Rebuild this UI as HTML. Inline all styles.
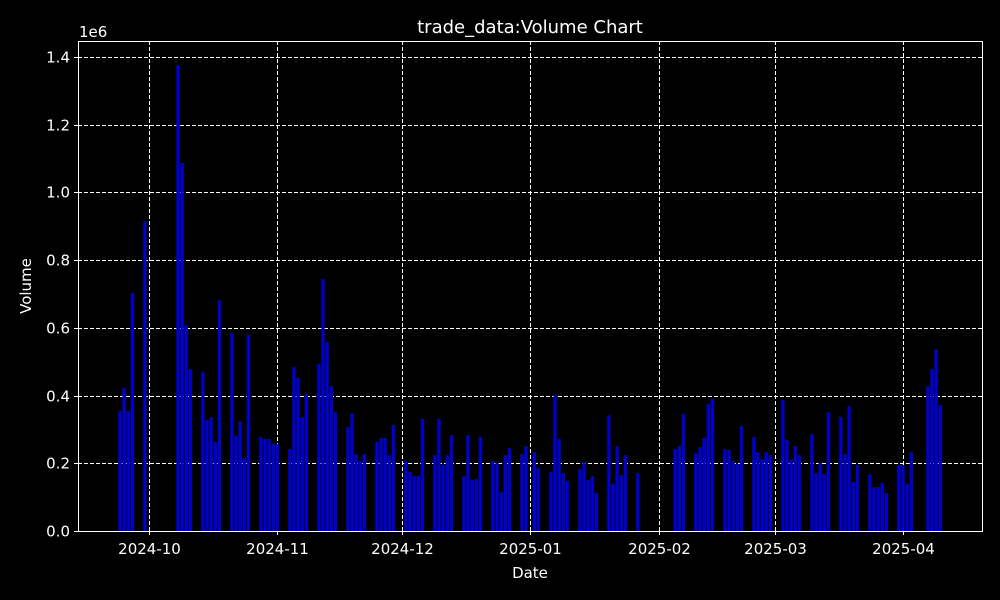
<!DOCTYPE html>
<html><head><meta charset="utf-8"><style>
html,body{margin:0;padding:0;background:#000;}
svg{display:block;font-family:"DejaVu Sans","Liberation Sans",sans-serif;}
</style></head><body>
<svg id="chart" width="1000" height="600" viewBox="0 0 1000 600" xmlns="http://www.w3.org/2000/svg">
<rect x="0" y="0" width="1000" height="600" fill="#000"/>
<text x="530" y="33" fill="#fff" font-size="18" text-anchor="middle">trade_data:Volume Chart</text>
<text x="79" y="37" fill="#fff" font-size="15">1e6</text>
<text x="530" y="578" fill="#fff" font-size="15" text-anchor="middle">Date</text>
<text x="31" y="286" fill="#fff" font-size="15" text-anchor="middle" transform="rotate(-90 31 286)">Volume</text>
<g id="grid"></g><g id="bars"></g><g id="axes"></g>
</svg>
<script>
const dates = ["2024-09-24","2024-09-25","2024-09-26","2024-09-27","2024-09-30",
"2024-10-08","2024-10-09","2024-10-10","2024-10-11",
"2024-10-14","2024-10-15","2024-10-16","2024-10-17","2024-10-18",
"2024-10-21","2024-10-22","2024-10-23","2024-10-24","2024-10-25",
"2024-10-28","2024-10-29","2024-10-30","2024-10-31","2024-11-01",
"2024-11-04","2024-11-05","2024-11-06","2024-11-07","2024-11-08",
"2024-11-11","2024-11-12","2024-11-13","2024-11-14","2024-11-15",
"2024-11-18","2024-11-19","2024-11-20","2024-11-21","2024-11-22",
"2024-11-25","2024-11-26","2024-11-27","2024-11-28","2024-11-29",
"2024-12-02","2024-12-03","2024-12-04","2024-12-05","2024-12-06",
"2024-12-09","2024-12-10","2024-12-11","2024-12-12","2024-12-13",
"2024-12-16","2024-12-17","2024-12-18","2024-12-19","2024-12-20",
"2024-12-23","2024-12-24","2024-12-25","2024-12-26","2024-12-27",
"2024-12-30","2024-12-31","2025-01-02","2025-01-03",
"2025-01-06","2025-01-07","2025-01-08","2025-01-09","2025-01-10",
"2025-01-13","2025-01-14","2025-01-15","2025-01-16","2025-01-17",
"2025-01-20","2025-01-21","2025-01-22","2025-01-23","2025-01-24",
"2025-01-27",
"2025-02-05","2025-02-06","2025-02-07",
"2025-02-10","2025-02-11","2025-02-12","2025-02-13","2025-02-14",
"2025-02-17","2025-02-18","2025-02-19","2025-02-20","2025-02-21",
"2025-02-24","2025-02-25","2025-02-26","2025-02-27","2025-02-28",
"2025-03-03","2025-03-04","2025-03-05","2025-03-06","2025-03-07",
"2025-03-10","2025-03-11","2025-03-12","2025-03-13","2025-03-14",
"2025-03-17","2025-03-18","2025-03-19","2025-03-20","2025-03-21",
"2025-03-24","2025-03-25","2025-03-26","2025-03-27","2025-03-28",
"2025-03-31","2025-04-01","2025-04-02","2025-04-03",
"2025-04-07","2025-04-08","2025-04-09","2025-04-10"];
const volumes = [0.354,0.422,0.354,0.703,0.915,
1.376,1.087,0.608,0.478,
0.470,0.328,0.336,0.263,0.682,
0.585,0.281,0.322,0.216,0.579,
0.278,0.272,0.272,0.257,0.258,
0.242,0.484,0.452,0.336,0.405,
0.493,0.744,0.558,0.428,0.351,
0.307,0.348,0.227,0.207,0.227,
0.263,0.275,0.275,0.224,0.313,
0.207,0.174,0.162,0.162,0.331,
0.224,0.331,0.195,0.224,0.283,
0.162,0.283,0.151,0.153,0.278,
0.207,0.201,0.115,0.224,0.245,
0.227,0.251,0.233,0.186,
0.174,0.402,0.272,0.171,0.148,
0.183,0.204,0.151,0.162,0.112,
0.342,0.139,0.251,0.165,0.224,
0.171,
0.242,0.251,0.346,
0.230,0.248,0.275,0.375,0.390,
0.242,0.239,0.207,0.198,0.310,
0.278,0.233,0.213,0.233,0.224,
0.387,0.269,0.210,0.251,0.224,
0.286,0.171,0.201,0.168,0.351,
0.337,0.227,0.369,0.145,0.195,
0.168,0.130,0.130,0.142,0.112,
0.195,0.195,0.139,0.233,
0.428,0.478,0.537,0.372];
const yTicks = [0,0.2,0.4,0.6,0.8,1.0,1.2,1.4];
const yTickLabels = ["0.0","0.2","0.4","0.6","0.8","1.0","1.2","1.4"];
const xTicks = ["2024-10-01","2024-11-01","2024-12-01","2025-01-01","2025-02-01","2025-03-01","2025-04-01"];
const xTickLabels = ["2024-10","2024-11","2024-12","2025-01","2025-02","2025-03","2025-04"];

const NS="http://www.w3.org/2000/svg";
const L=78,R=982,T=41,B=531;
const DAY=86400000, base=Date.UTC(2024,9,1);
const xMin=-17.14, xMax=201.06, yMax=1.447;
function dayOf(s){const p=s.split("-");return (Date.UTC(+p[0],+p[1]-1,+p[2])-base)/DAY;}
function xs(d){return L+(d-xMin)/(xMax-xMin)*(R-L);}
function ys(v){return B-v/yMax*(B-T);}
function mk(tag,attrs,parent){const e=document.createElementNS(NS,tag);for(const k in attrs)e.setAttribute(k,attrs[k]);parent.appendChild(e);return e;}
const grid=document.getElementById("grid"),bars=document.getElementById("bars"),axes=document.getElementById("axes");
const pxDay=(R-L)/(xMax-xMin);
dates.forEach((d,i)=>{
  const cx=xs(dayOf(d)), w=0.8*pxDay;
  const r=mk("rect",{x:cx-w/2,y:ys(volumes[i]),width:w,height:B-ys(volumes[i]),fill:"#0000cd"},bars);
  
  
});
yTicks.forEach((v,i)=>{
  const y=Math.round(ys(v))+0.5;
  const g=mk("line",{x1:L,x2:R,y1:y,y2:y,stroke:"#fff","stroke-width":1,"stroke-dasharray":"4,2"},grid);
  
  
  mk("line",{x1:L-4,x2:L,y1:y,y2:y,stroke:"#fff","stroke-width":1},axes);
  const t=mk("text",{x:L-8,y:y+5,fill:"#fff","font-size":15,"text-anchor":"end"},axes);
  t.textContent=yTickLabels[i];
  
  
});
xTicks.forEach((d,i)=>{
  const x=Math.round(xs(dayOf(d)))+0.5;
  const g=mk("line",{x1:x,x2:x,y1:T,y2:B,stroke:"#fff","stroke-width":1,"stroke-dasharray":"4,2"},grid);
  
  
  mk("line",{x1:x,x2:x,y1:B,y2:B+4,stroke:"#fff","stroke-width":1},axes);
  const t=mk("text",{x:x,y:B+23,fill:"#fff","font-size":15,"text-anchor":"middle"},axes);
  t.textContent=xTickLabels[i];
  
  
});
const fr=mk("rect",{x:L+0.5,y:T+0.5,width:R-L,height:B-T,fill:"none",stroke:"#fff","stroke-width":1},axes);


</script>
</body></html>
